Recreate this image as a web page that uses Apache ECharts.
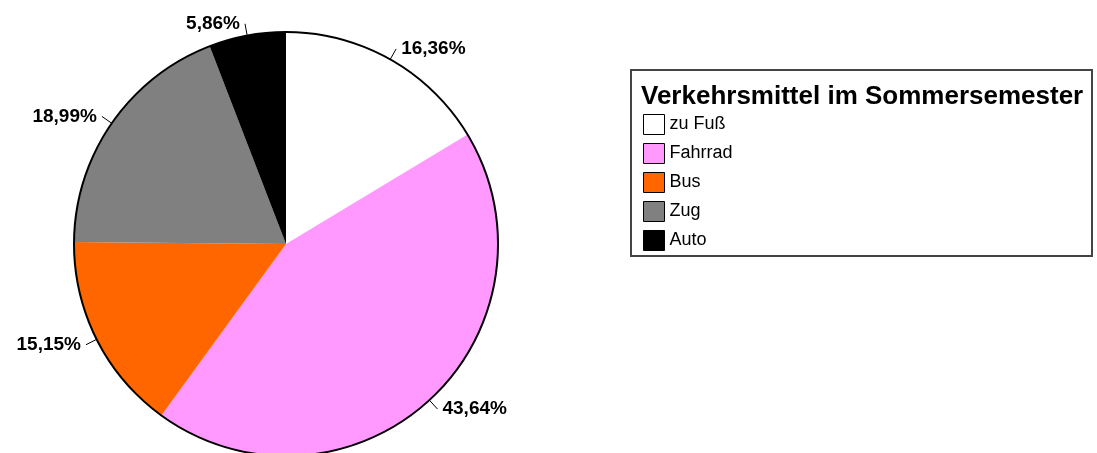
<!DOCTYPE html>
<html>
<head>
<meta charset="utf-8">
<script src="https://cdn.jsdelivr.net/npm/echarts@6/dist/echarts.min.js"></script>
<style>
  html, body { margin: 0; padding: 0; background: #fff; }
  #chart { width: 1097px; height: 453px; }
</style>
</head>
<body>
<div id="chart"></div>
<script>
// Verkehrsmittel im Sommersemester
const categories = ["zu Fuß", "Fahrrad", "Bus", "Zug", "Auto"];
const shares = [16.36, 43.64, 15.15, 18.99, 5.86];
const colors = ["#FFFFFF", "#FF99FF", "#FF6600", "#808080", "#000000"];
const legendTitle = "Verkehrsmittel im Sommersemester";

const font = "'Liberation Sans', Arial, sans-serif";

const chart = echarts.init(document.getElementById("chart"));
chart.setOption({
  animation: false,
  textStyle: { fontFamily: font },
  color: colors,
  legend: {
    orient: "vertical",
    left: 643,
    top: 114,
    itemWidth: 21,
    itemHeight: 20,
    itemGap: 8,
    icon: "rect",
    padding: 0,
    data: categories,
    itemStyle: { borderColor: "#000", borderWidth: 1 },
    textStyle: { fontSize: 18, color: "#000" },
  },
  graphic: [
    {
      type: "rect",
      shape: { x: 631, y: 70, width: 461, height: 186 },
      style: { fill: "none", stroke: "#444", lineWidth: 2 },
      z: 0,
    },
    {
      type: "text",
      left: 641,
      top: 84,
      style: {
        text: legendTitle,
        font: "bold 26px " + font,
        fill: "#000",
      },
    },
  ],
  series: [
    {
      type: "pie",
      center: [286, 244],
      radius: 212,
      startAngle: 90,
      clockwise: true,
      data: categories.map((name, i) => ({ name: name, value: shares[i] })),
      itemStyle: { borderWidth: 0 },
      label: {
        show: true,
        position: "outside",
        formatter: (p) => p.value.toFixed(2).replace(".", ",") + "%",
        fontSize: 19,
        fontWeight: "bold",
        color: "#000",
      },
      labelLine: {
        show: true,
        length: 12,
        length2: 0,
        lineStyle: { color: "#000", width: 1 },
      },
      emphasis: { disabled: true },
    },
    {
      // outer outline only, no radial edges
      type: "pie",
      center: [286, 244],
      radius: 212,
      silent: true,
      data: [{ value: 1, name: "_rand" }],
      itemStyle: { color: "rgba(0,0,0,0)", borderColor: "#000", borderWidth: 2 },
      label: { show: false },
      labelLine: { show: false },
      emphasis: { disabled: true },
      z: 3,
    },
  ],
});
</script>
</body>
</html>
